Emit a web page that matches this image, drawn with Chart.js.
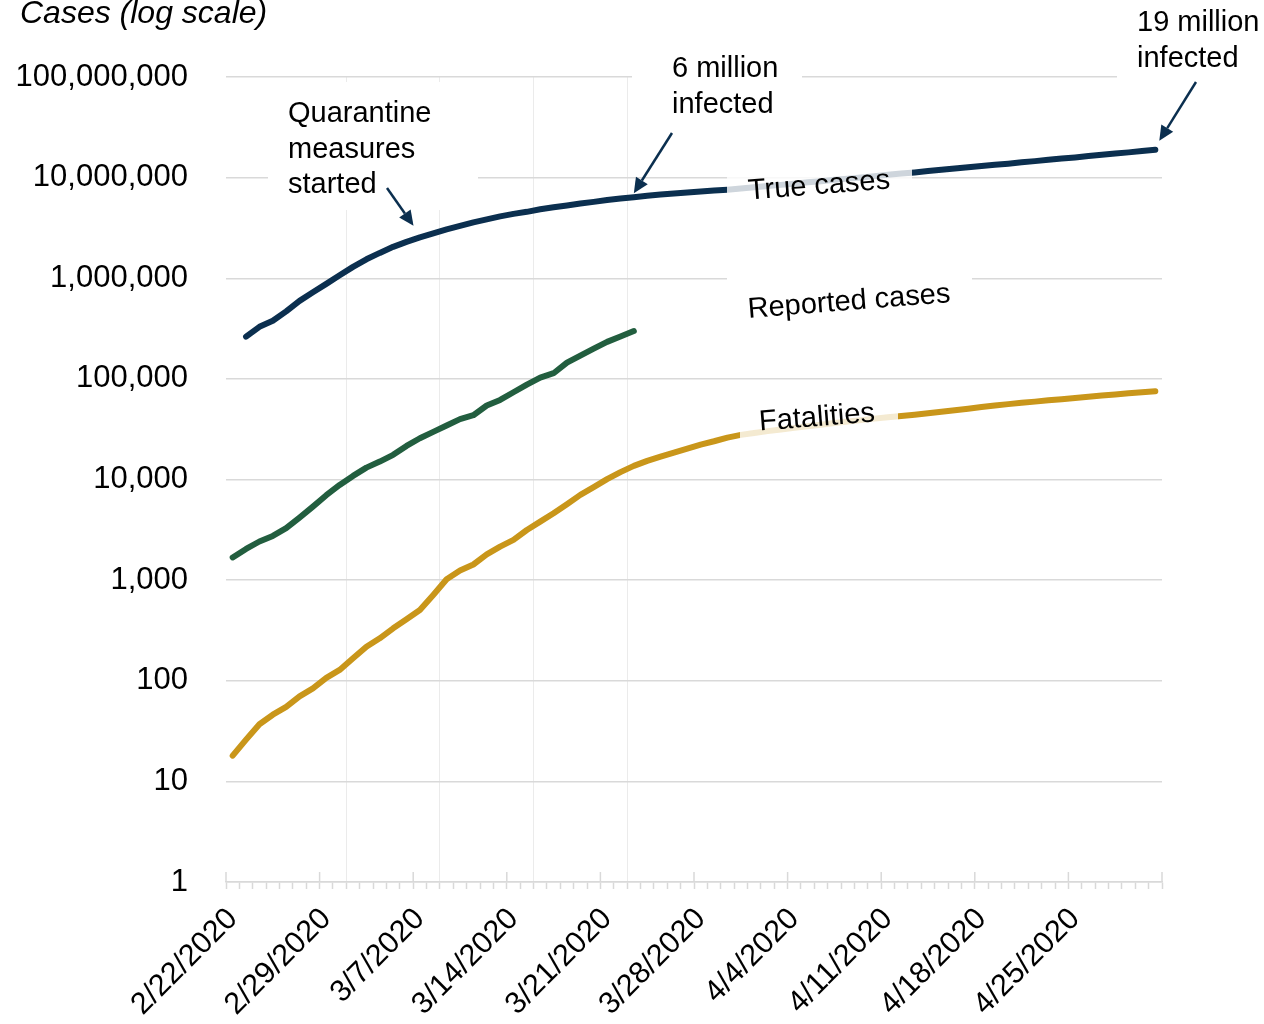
<!DOCTYPE html>
<html>
<head>
<meta charset="utf-8">
<title>Cases (log scale)</title>
<script src="https://cdn.jsdelivr.net/npm/chart.js@4.4.1/dist/chart.umd.min.js"></script>
<style>
  html, body { margin: 0; padding: 0; background: #fff; }
  #wrap { width: 1264px; height: 1024px; position: relative; }
</style>
</head>
<body>
<div id="wrap"><canvas id="casesChart"></canvas></div>
<script>
/* ===================== DATA ===================== */
const dates = [
  '2/22/2020', '2/23/2020', '2/24/2020', '2/25/2020', '2/26/2020', '2/27/2020', '2/28/2020', '2/29/2020',
  '3/1/2020', '3/2/2020', '3/3/2020', '3/4/2020', '3/5/2020', '3/6/2020', '3/7/2020', '3/8/2020',
  '3/9/2020', '3/10/2020', '3/11/2020', '3/12/2020', '3/13/2020', '3/14/2020', '3/15/2020', '3/16/2020',
  '3/17/2020', '3/18/2020', '3/19/2020', '3/20/2020', '3/21/2020', '3/22/2020', '3/23/2020', '3/24/2020',
  '3/25/2020', '3/26/2020', '3/27/2020', '3/28/2020', '3/29/2020', '3/30/2020', '3/31/2020', '4/1/2020',
  '4/2/2020', '4/3/2020', '4/4/2020', '4/5/2020', '4/6/2020', '4/7/2020', '4/8/2020', '4/9/2020',
  '4/10/2020', '4/11/2020', '4/12/2020', '4/13/2020', '4/14/2020', '4/15/2020', '4/16/2020', '4/17/2020',
  '4/18/2020', '4/19/2020', '4/20/2020', '4/21/2020', '4/22/2020', '4/23/2020', '4/24/2020', '4/25/2020',
  '4/26/2020', '4/27/2020', '4/28/2020', '4/29/2020', '4/30/2020', '5/1/2020'
];
const dateTicks = ['2/22/2020', '2/29/2020', '3/7/2020', '3/14/2020', '3/21/2020',
                   '3/28/2020', '4/4/2020', '4/11/2020', '4/18/2020', '4/25/2020'];
const logTicks = [1, 10, 100, 1000, 10000, 100000, 1000000, 10000000, 100000000];

const trueCases = [null, 263000, 328900, 377600, 468800, 595700, 724400, 879000, 1069000, 1297000,
  1542000, 1786000, 2051000, 2301000, 2547000, 2793000, 3062000, 3319000, 3597000, 3846000,
  4121000, 4365000, 4571000, 4842000, 5070000, 5284000, 5521000, 5741000, 5984000, 6194000,
  6397000, 6592000, 6792000, 6950000, 7112000, 7278000, 7447000, 7586000, 7780000, 8017000,
  8241000, 8472000, 8710000, 8974000, 9226000, 9506000, 9772000, 10046000, 10351000, 10666000,
  10965000, 11272000, 11614000, 11967000, 12303000, 12647000, 13032000, 13397000, 13772000, 14191000,
  14588000, 15031000, 15453000, 15885000, 16368000, 16866000, 17338000, 17824000, 18365000, 18880000];

const reportedCases = [1680, 2040, 2420, 2750, 3280, 4180, 5380, 6980, 8830, 10860,
  13120, 15070, 17580, 21580, 25700, 29720, 34360, 39810, 43550, 54330,
  61800, 73620, 87700, 103000, 113800, 145200, 170600, 200000, 233300, 263600, 298500];

const fatalities = [18, 26, 37, 46, 55, 70, 84, 107, 128, 167,
  218, 264, 332, 408, 505, 713, 1020, 1245, 1430, 1800,
  2150, 2510, 3150, 3810, 4620, 5680, 7030, 8380, 10070, 11830,
  13650, 15300, 16900, 18530, 20300, 22250, 24000, 26100, 27750, 29040,
  30270, 31410, 32580, 33810, 35080, 36390, 37670, 38900, 40270, 41500,
  42660, 44060, 45600, 47210, 48870, 50580, 52480, 54330, 56100, 57810,
  59430, 61240, 62810, 64570, 66370, 68230, 69980, 71780, 73620, 75340];

/* ===================== STYLE ===================== */
const NAVY = '#0b2f4f';
const GREEN = '#225e3f';
const GOLD = '#c9961a';
const GRID = '#d9d9d9';
const FONT = "'Liberation Sans', Arial, sans-serif";
const faintWeekLines = [9, 16, 23, 30];

function arrow(ctx, x1, y1, x2, y2) {
  const a = Math.atan2(y2 - y1, x2 - x1);
  const head = 15, half = 7;
  const bx = x2 - head * Math.cos(a), by = y2 - head * Math.sin(a);
  ctx.strokeStyle = NAVY;
  ctx.fillStyle = NAVY;
  ctx.lineWidth = 2.5;
  ctx.beginPath(); ctx.moveTo(x1, y1); ctx.lineTo(bx, by); ctx.stroke();
  ctx.beginPath();
  ctx.moveTo(x2, y2);
  ctx.lineTo(bx + half * Math.sin(a), by - half * Math.cos(a));
  ctx.lineTo(bx - half * Math.sin(a), by + half * Math.cos(a));
  ctx.closePath();
  ctx.fill();
}

function lines(ctx, text, x, y, step) {
  text.forEach((t, i) => ctx.fillText(t, x, y + i * step));
}

function lineLabel(ctx, text, cx, cy) {
  ctx.save();
  ctx.translate(cx, cy);
  ctx.rotate(-4.5 * Math.PI / 180);
  ctx.textAlign = 'center';
  ctx.textBaseline = 'middle';
  ctx.fillText(text, 0, 0);
  ctx.restore();
}

/* ===================== ANNOTATIONS ===================== */
const notes = {
  id: 'notes',
  beforeDatasetsDraw(chart) {
    const ctx = chart.ctx;
    ctx.save();
    // white boxes behind the callout texts knock out the gridlines
    ctx.fillStyle = '#fff';
    ctx.fillRect(268, 82, 210, 128);
    ctx.fillRect(632, 45, 170, 85);
    ctx.fillRect(1117, 0, 147, 82);
    ctx.fillRect(727, 272, 245, 58);

    // major week ticks cross the axis line
    const xs = chart.scales.x;
    const half = (xs.getPixelForTick(1) - xs.getPixelForTick(0)) / 2;
    ctx.strokeStyle = GRID;
    ctx.lineWidth = 1.5;
    for (let i = 0; i <= dates.length; i += 7) {
      const x = i < dates.length ? xs.getPixelForTick(i) - half : xs.getPixelForTick(i - 1) + half;
      ctx.beginPath();
      ctx.moveTo(x, xs.top - 10);
      ctx.lineTo(x, xs.top);
      ctx.stroke();
    }
    ctx.restore();
  },
  afterDatasetsDraw(chart) {
    const ctx = chart.ctx;
    const xs = chart.scales.x, ys = chart.scales.y;
    const px = (arr, i) => ({ x: xs.getPixelForValue(i), y: ys.getPixelForValue(arr[i]) });
    ctx.save();

    // translucent boxes under the series labels
    ctx.fillStyle = 'rgba(255,255,255,0.8)';
    ctx.fillRect(727, 163, 185, 42);
    ctx.fillRect(740, 398, 158, 42);

    ctx.fillStyle = '#000';
    ctx.font = '29px ' + FONT;
    lineLabel(ctx, 'True cases', 819, 186);
    lineLabel(ctx, 'Reported cases', 849, 302);
    lineLabel(ctx, 'Fatalities', 817, 418);

    ctx.textAlign = 'left';
    ctx.textBaseline = 'alphabetic';
    lines(ctx, ['Quarantine', 'measures', 'started'], 288, 122, 35.5);
    lines(ctx, ['6 million', 'infected'], 672, 77, 35.5);
    lines(ctx, ['19 million', 'infected'], 1137, 31, 35.5);

    const q = px(trueCases, 13);
    arrow(ctx, 387, 188, q.x + 7, q.y - 16);
    const s = px(trueCases, 30);
    arrow(ctx, 672, 133, s.x, s.y - 4);
    const n = px(trueCases, 69);
    arrow(ctx, 1196, 82, n.x + 4, n.y - 9);

    ctx.fillStyle = '#000';
    ctx.font = 'italic 32px ' + FONT;
    ctx.fillText('Cases (log scale)', 20, 23);
    ctx.restore();
  }
};

/* ===================== CHART ===================== */
document.addEventListener('DOMContentLoaded', () => {
  const ctx = document.getElementById('casesChart');
  const lineStyle = { borderWidth: 6, pointRadius: 0, tension: 0, borderCapStyle: 'round', borderJoinStyle: 'round', fill: false };

  new Chart(ctx.getContext('2d'), {
    type: 'line',
    data: {
      labels: dates,
      datasets: [
        { label: 'True cases', data: trueCases, borderColor: NAVY, ...lineStyle },
        { label: 'Reported cases', data: reportedCases, borderColor: GREEN, ...lineStyle },
        { label: 'Fatalities', data: fatalities, borderColor: GOLD, ...lineStyle }
      ]
    },
    options: {
      responsive: true,
      maintainAspectRatio: false,
      animation: false,
      layout: { padding: { top: 77, right: 102, left: 0, bottom: 0 } },
      plugins: {
        legend: { display: false },
        tooltip: { enabled: false }
      },
      scales: {
        x: {
          type: 'category',
          offset: true,
          afterFit: (scale) => { scale.height = 142; },
          grid: {
            offset: true,
            color: (c) => faintWeekLines.includes(c.index) ? '#ebebeb' : 'rgba(0,0,0,0)',
            lineWidth: 1,
            tickColor: GRID,
            tickLength: 7,
            tickWidth: 1.5
          },
          border: { display: true, color: GRID, width: 1.5 },
          ticks: {
            autoSkip: false,
            maxRotation: 45,
            minRotation: 45,
            padding: 12,
            color: '#000',
            font: { family: FONT, size: 30.5 },
            callback: (v, i) => dateTicks.includes(dates[i]) ? dates[i] : ''
          }
        },
        y: {
          type: 'logarithmic',
          min: 1,
          max: 100000000,
          afterFit: (scale) => { scale.width = 226; },
          afterBuildTicks: (scale) => { scale.ticks = logTicks.map(v => ({ value: v })); },
          grid: { color: GRID, lineWidth: 1.5, drawTicks: false },
          border: { display: false },
          ticks: {
            padding: 38,
            color: '#000',
            font: { family: FONT, size: 31 },
            callback: (v) => Number(v).toLocaleString('en-US')
          }
        }
      }
    },
    plugins: [notes]
  });
});
</script>
</body>
</html>
